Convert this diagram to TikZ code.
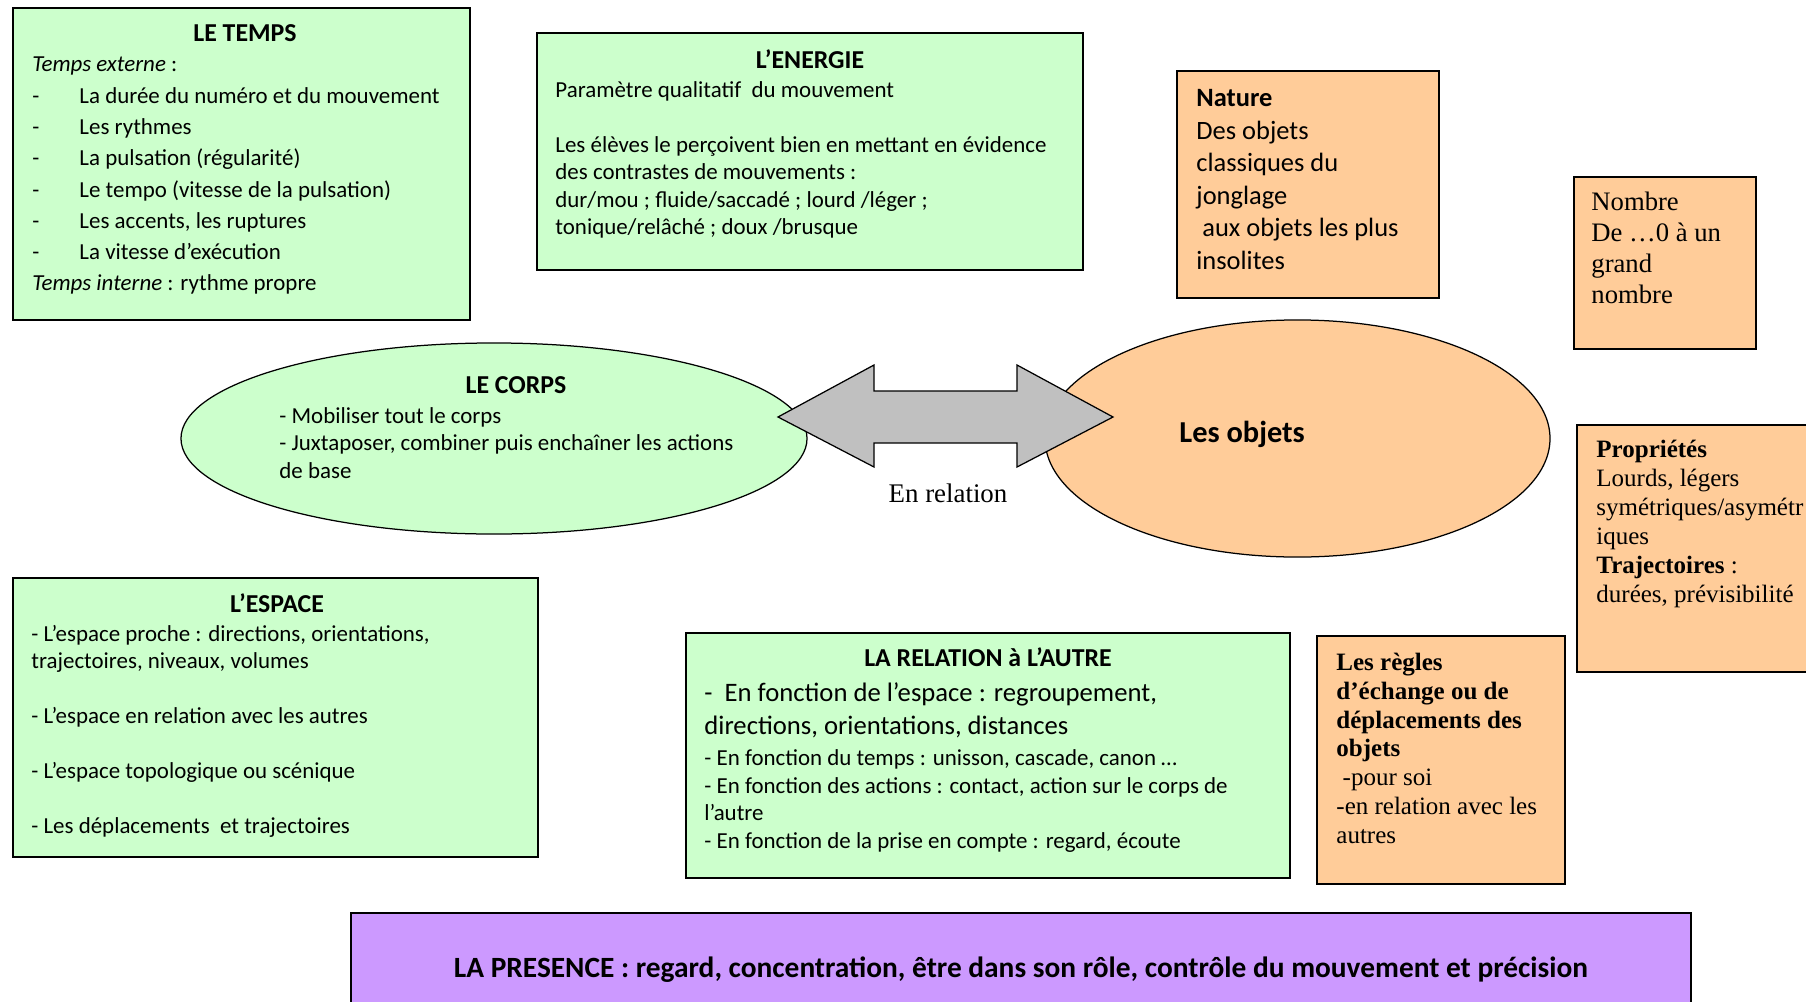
\documentclass[tikz,border=0pt]{standalone}
\usepackage{fontspec}
\setmainfont{Carlito}
\newfontfamily\tnr{Liberation Serif}
\usepackage{tikz}
\usetikzlibrary{shapes.geometric,fit}

\definecolor{vertclair}{HTML}{CCFFCC}
\definecolor{orangeclair}{HTML}{FFCC99}
\definecolor{mauve}{HTML}{CC99FF}
\definecolor{grisfleche}{HTML}{C0C0C0}

\newcommand\tiret{\makebox[22.6pt][l]{-}}
\newcommand\lignes[1]{\begin{tabular}[t]{@{}l@{}}#1\end{tabular}}

\begin{document}
\begin{tikzpicture}[x=0.48pt,y=-0.48pt,
		vert box/.style={draw,line width=0.8pt,fill=vertclair,inner sep=0pt},
		orange box/.style={draw,line width=0.8pt,fill=orangeclair,inner sep=0pt},
		bulle/.style={ellipse,draw,line width=0.6pt,inner sep=0pt},
		titre/.style={anchor=base,inner sep=0pt,font=\fontsize{12.4}{14}\selectfont\bfseries},
		texte/.style={anchor=base west,inner sep=0pt,font=\fontsize{11}{13.2}\selectfont},
		serif/.style={anchor=base west,inner sep=0pt,font=\tnr\fontsize{12}{13.9}\selectfont}]

		\path[use as bounding box,fill=white] (0,0) rectangle (1806,1001);

		% cadres
		\node[vert box,fit={(13,8) (470,320)}] (temps) {};
		\node[vert box,fit={(537,33) (1083,270)}] (energie) {};
		\node[orange box,fit={(1177,71) (1439,298)}] (nature) {};
		\node[orange box,fit={(1574,177) (1756,349)}] (nombre) {};
		\node[orange box,fit={(1577,425) (1850,672)}] (proprietes) {};
		\node[vert box,fit={(13,578) (538,857)}] (espace) {};
		\node[vert box,fit={(686,633) (1290,878)}] (relation) {};
		\node[orange box,fit={(1317,636) (1565,884)}] (regles) {};
		\node[draw,line width=0.8pt,fill=mauve,inner sep=0pt,fit={(351,913) (1691,1040)}] (presence) {};

		\node[bulle,fill=vertclair,minimum width=300.5pt,minimum height=91.7pt] (corps) at (494,438.5) {};
		\node[bulle,fill=orangeclair,minimum width=242.4pt,minimum height=113.8pt] (objets) at (1297.5,438.5) {};

		% fleche double entre le corps et les objets
		\coordinate (lienG) at (778,417);
		\coordinate (lienD) at (1113,417);
		\draw[line width=0.6pt,fill=grisfleche] (lienG) -- (874,365) -- (874,391) -- (1017,391)
		-- (1017,365) -- (lienD) -- (1017,467) -- (1017,443) -- (874,443) -- (874,467) -- cycle;
		\node[anchor=base,inner sep=0pt,font=\tnr\fontsize{12.9}{15}\selectfont] (enrelation) at (948,502) {En relation};

		% textes
		\node[titre] (tempstitre) at (245,42) {LE TEMPS};
		\node[texte,font=\fontsize{11}{15}\selectfont] (tempstxt) at (32,72) {\lignes{\textit{Temps externe} :\\
			\tiret La durée du numéro et du mouvement\\
			\tiret Les rythmes\\
			\tiret La pulsation (régularité)\\
			\tiret Le tempo (vitesse de la pulsation)\\
			\tiret Les accents, les ruptures\\
			\tiret La vitesse d’exécution\\
			\textit{Temps interne} : rythme propre}};

		\node[titre] (energietitre) at (810,68.5) {L’ENERGIE};
		\node[texte] (energietxt) at (555,97.5) {\lignes{Paramètre qualitatif\ \ du mouvement\\[13.2pt]
			Les élèves le perçoivent bien en mettant en évidence\\
			des contrastes de mouvements :\\
			dur/mou ; fluide/saccadé ; lourd /léger ;\\
			tonique/relâché ; doux /brusque}};

		\node[texte,font=\fontsize{12.7}{15.6}\selectfont] (naturetxt) at (1196,106.5) {\lignes{\textbf{Nature}\\
			Des objets\\
			classiques du\\
			jonglage\\
			\ aux objets les plus\\
			insolites}};

		\node[serif,font=\tnr\fontsize{12.8}{14.9}\selectfont] (nombretxt) at (1591,210) {\lignes{Nombre\\
			De …0 à un\\
			grand\\
			nombre}};

		\node[titre] (corpstitre) at (516,393) {LE CORPS};
		\node[texte,font=\fontsize{11}{13.3}\selectfont] (corpstxt) at (279,423) {\lignes{- Mobiliser tout le corps\\
			- Juxtaposer, combiner puis enchaîner les actions\\
			de base}};

		\node[anchor=base west,inner sep=0pt,font=\fontsize{14.6}{17}\selectfont\bfseries] (objetstxt) at (1179,442) {Les objets};

		\node[serif] (proprietestxt) at (1596,457.5) {\lignes{\textbf{Propriétés}\\
			Lourds, légers\\
			symétriques/asymétr\\
			iques\\
			\textbf{Trajectoires} :\\
			durées, prévisibilité}};

		\node[titre] (espacetitre) at (277,612) {L’ESPACE};
		\node[texte] (espacetxt) at (31,641) {\lignes{- L’espace proche : directions, orientations,\\
			trajectoires, niveaux, volumes\\[13.2pt]
			- L’espace en relation avec les autres\\[13.2pt]
			- L’espace topologique ou scénique\\[13.2pt]
			- Les déplacements\ \ et trajectoires}};

		\node[titre] (relationtitre) at (988,666) {LA RELATION à L’AUTRE};
		\node[texte,font=\fontsize{12.8}{16}\selectfont] (relationgrand) at (704,701.5) {\lignes{-\ \ En fonction de l’espace : regroupement,\\
			directions, orientations, distances}};
		\node[texte] (relationtxt) at (704,765.5) {\lignes{- En fonction du temps : unisson, cascade, canon …\\
			- En fonction des actions : contact, action sur le corps de\\
			l’autre\\
			- En fonction de la prise en compte : regard, écoute}};

		\node[serif,font=\tnr\fontsize{12}{13.8}\selectfont] (reglestxt) at (1336,670.5) {\lignes{\textbf{Les règles}\\
			\textbf{d’échange ou de}\\
			\textbf{déplacements des}\\
			\textbf{objets}\\
			\ -pour soi\\
			-en relation avec les\\
			autres}};

		\node[titre,font=\fontsize{14.1}{16}\selectfont\bfseries] (presencetxt) at (1021,977) {LA PRESENCE : regard, concentration, être dans son rôle, contrôle du mouvement et précision};
	\end{tikzpicture}
\end{document}
